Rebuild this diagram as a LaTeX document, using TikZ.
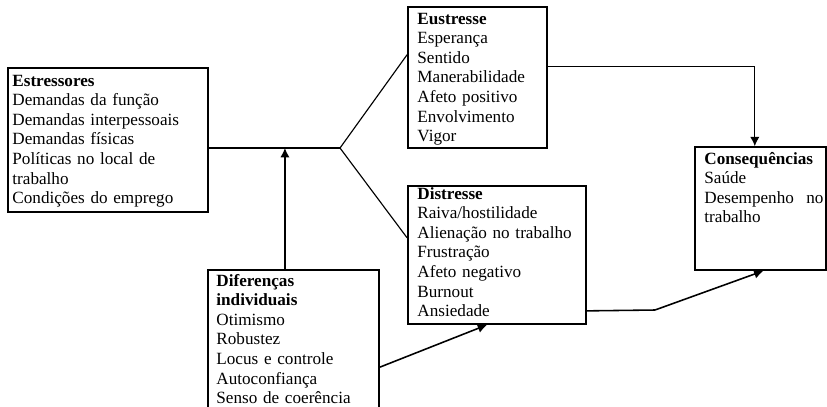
\documentclass[tikz,border=0pt]{standalone}
\usepackage{fontspec}
\setmainfont{Liberation Serif}
\usetikzlibrary{fit,arrows.meta}
\hyphenpenalty=10000
\tolerance=9999

\begin{document}
\begin{tikzpicture}[
      x=0.7pt, y=-0.7pt,
      box/.style={draw, line width=1.2pt, inner sep=0pt},
      txt/.style={anchor=base west, inner sep=0pt, align=left,
        font=\fontsize{12}{13.7}\selectfont},
      link/.style={line width=0.8pt},
      arr/.style={link, -{Latex[length=6.5pt,width=6.5pt]}},
      thick arr/.style={arr, line width=1.1pt}]
    \useasboundingbox (0,0) rectangle (827,406);
    \clip (0,0) rectangle (827,406);

    \node[box, fit={(8,68) (208,212)}]   (estr) {};
    \node[box, fit={(408,7) (547,148)}]  (eus)  {};
    \node[box, fit={(408,186) (586,324)}] (dis) {};
    \node[box, fit={(695,147) (826,270)}] (cons) {};
    \node[box, fit={(208,270) (379,420)}] (dif) {};

    \node[txt, text width=129pt] (estr-t) at ([shift={(5,19)}]estr.north west)
      {\textbf{Estressores}\\ Demandas da função\\ Demandas interpessoais\\
       Demandas físicas\\ Políticas no local de trabalho\\ Condições do emprego};
    \node[txt, text width=90pt] (eus-t) at ([shift={(10,18)}]eus.north west)
      {\textbf{Eustresse}\\ Esperança\\ Sentido\\ Manerabilidade\\
       Afeto positivo\\ Envolvimento\\ Vigor};
    \node[txt, text width=115pt] (dis-t) at ([shift={(10,14)}]dis.north west)
      {\textbf{Distresse}\\ Raiva/hostilidade\\ Alienação no trabalho\\
       Frustração\\ Afeto negativo\\ Burnout\\ Ansiedade};
    \node[txt, text width=83.3pt, align=justify] (cons-t) at ([shift={(10,18)}]cons.north west)
      {\textbf{Consequências}\\ Saúde\\ Desempenho no trabalho};
    \node[txt, text width=105pt] (dif-t) at ([shift={(9,17)}]dif.north west)
      {\textbf{Diferenças individuais}\\ Otimismo\\ Robustez\\ Locus e controle\\
       Autoconfiança\\ Senso de coerência};

    \coordinate (br) at (340,148);
    \coordinate (kink) at (655,310);
    \coordinate (up) at ([xshift=-6pt]dif.north);

    \draw[link] (estr.east |- br) -- (br);
    \draw[link] (br) -- ([yshift=16pt]eus.west);
    \draw[link] (br) -- ([yshift=12pt]dis.west);
    \draw[arr]  ([yshift=8pt]eus.east) -| ([xshift=-4pt]cons.north);
    \draw[thick arr] (up) -- (up |- br);
    \draw[thick arr] ([yshift=-68.6pt]dif.north east) -- ([xshift=-7pt]dis.south);
    \draw[link, line width=1.1pt] ([yshift=9.8pt]dis.south east) -- (kink);
    \draw[thick arr] (kink) -- ([xshift=2pt]cons.south);
  \end{tikzpicture}
\end{document}
